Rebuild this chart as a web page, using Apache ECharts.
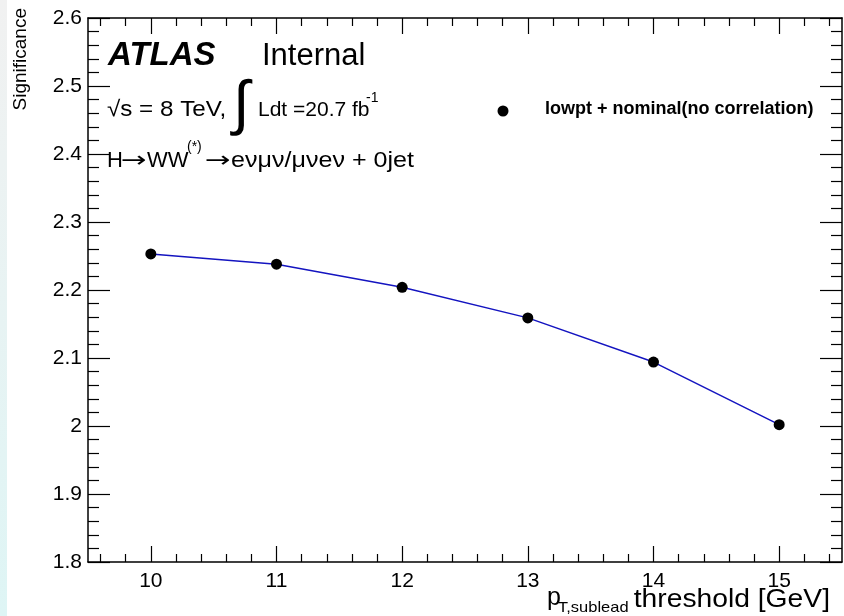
<!DOCTYPE html>
<html><head><meta charset="utf-8">
<script src="https://cdn.jsdelivr.net/npm/echarts@6/dist/echarts.min.js"></script>
<style>html,body{margin:0;padding:0;background:#fff}#c{width:844px;height:616px}</style>
</head><body><div id="c"></div>
<script>
// ---- data ----
const thresholds = [10, 11, 12, 13, 14, 15];
const significance = [2.253, 2.238, 2.204, 2.159, 2.094, 2.002];
const xTickLabels = [10, 11, 12, 13, 14, 15];
const yTickLabels = [1.8, 1.9, 2, 2.1, 2.2, 2.3, 2.4, 2.5, 2.6];
const seriesName = 'lowpt + nominal(no correlation)';

// ---- axis tick helpers ----
const xMin = 9.5, xMax = 15.5;
const xMinor = [];
for (let i = 96; i <= 154; i += 2) { if (i % 10 !== 0) xMinor.push(i / 10); }

const F = '"Liberation Sans", Arial, Helvetica, sans-serif';
const D = '"DejaVu Sans", sans-serif';
const axisLine = { show: true, lineStyle: { color: '#000', width: 1.5 } };
const tickStyle = { color: '#000', width: 1.2 };

function xAxisDef(pos, major, withLabel) {
  return {
    type: 'value', min: xMin, max: xMax, position: pos,
    axisLine: major ? axisLine : { show: false },
    axisTick: { show: true, inside: true, length: major ? 16 : 8,
      customValues: major ? xTickLabels : xMinor, lineStyle: tickStyle },
    axisLabel: withLabel ? { show: true, customValues: xTickLabels, fontFamily: F, fontSize: 21, color: '#000', margin: 9 } : { show: false },
    splitLine: { show: false }
  };
}
function yAxisDef(pos, withLabel) {
  return {
    type: 'value', min: yTickLabels[0], max: yTickLabels[yTickLabels.length - 1], interval: 0.1, position: pos,
    axisLine: axisLine,
    axisTick: { show: true, inside: true, length: 22, lineStyle: tickStyle },
    minorTick: { show: true, splitNumber: 5, length: 11, lineStyle: tickStyle },
    axisLabel: withLabel ? { show: true, fontFamily: F, fontSize: 21, color: '#000', margin: 6,
      formatter: v => String(Math.round(v * 10) / 10) } : { show: false },
    splitLine: { show: false }
  };
}

function txt(x, y, text, font, extra, el) {
  return Object.assign({
    type: 'text', x: x, y: y, silent: true,
    style: Object.assign({ text: text, font: font, fill: '#000', align: 'left', verticalAlign: 'middle' }, extra || {})
  }, el || {});
}

const chart = echarts.init(document.getElementById('c'), null, { renderer: 'canvas' });
chart.setOption({
  animation: false,
  backgroundColor: '#fff',
  grid: { left: 88, right: 2, top: 18, bottom: 54, containLabel: false },
  xAxis: [xAxisDef('bottom', true, true), xAxisDef('bottom', false, false), xAxisDef('top', true, false), xAxisDef('top', false, false)],
  yAxis: [yAxisDef('left', true), yAxisDef('right', false)],
  series: [{
    name: seriesName, type: 'line',
    data: thresholds.map((t, i) => [t, significance[i]]),
    symbol: 'circle', symbolSize: 11, showSymbol: true,
    lineStyle: { color: '#1414c0', width: 1.5 },
    itemStyle: { color: '#000' }, z: 5
  }],
  graphic: [
    { type: 'rect', shape: { x: 0, y: 0, width: 7, height: 616 }, silent: true,
      style: { fill: new echarts.graphic.LinearGradient(0, 0, 0, 1, [{ offset: 0, color: '#f1f1f1' }, { offset: 1, color: '#def5f5' }]) } },
    txt(21, 8, 'Significance', '19px ' + F, { align: 'right' }, { rotation: Math.PI / 2 }),
    txt(108, 56, 'ATLAS', 'italic bold 33px ' + F),
    txt(262, 56, 'Internal', '31px ' + F),
    txt(107, 110, '\u221As = 8 TeV,', '22px ' + F, null, { scaleX: 1.1 }),
    txt(233, 106, '\u222B', '60px ' + F),
    txt(258, 110, 'Ldt =20.7 fb', '21px ' + F),
    txt(366, 98, '-1', '14px ' + F),
    txt(107, 161, 'H', '22px ' + F),
    txt(121, 161, '\u2192', '22px ' + D, null, { scaleX: 1.4 }),
    txt(147, 161, 'WW', '22px ' + F),
    txt(187, 147, '(*)', '14px ' + F),
    txt(205, 161, '\u2192', '22px ' + D, null, { scaleX: 1.4 }),
    txt(231, 161, 'e\u03BD\u03BC\u03BD/\u03BC\u03BDe\u03BD + 0jet', '22px ' + F, null, { scaleX: 1.14 }),
    { type: 'circle', shape: { cx: 503, cy: 111, r: 5.5 }, style: { fill: '#000' }, silent: true },
    txt(545, 109, seriesName, 'bold 18px ' + F),
    txt(830, 600, 'threshold [GeV]', '25px ' + F, { align: 'right' }, { scaleX: 1.13 }),
    txt(547, 598, 'p', '25px ' + F),
    txt(558, 608, 'T,sublead', '15px ' + F, null, { scaleX: 1.1 })
  ]
});
</script></body></html>
